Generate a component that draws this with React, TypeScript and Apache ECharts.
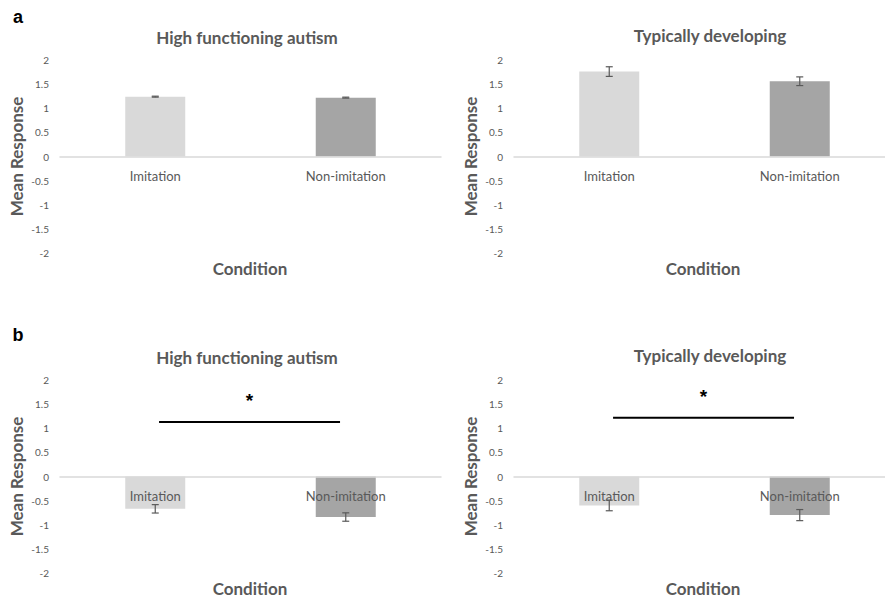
import React, { useEffect, useRef } from 'react';
import * as echarts from 'echarts';

// ---- data ----
const categories = ['Imitation', 'Non-imitation'];
const panelTitles = ['High functioning autism', 'Typically developing'];
const panelLetters = ['a', 'b'];
const xAxisTitle = 'Condition';
const yAxisTitle = 'Mean Response';
const yMin = -2;
const yMax = 2;
const yInterval = 0.5;

// panel a
const hfaA = [1.24, 1.22];
const hfaAErr = [0.01, 0.01];
const tdA = [1.76, 1.56];
const tdAErr = [0.1, 0.09];
// panel b
const hfaB = [-0.67, -0.84];
const hfaBErr = [0.087, 0.087];
const tdB = [-0.6, -0.8];
const tdBErr = [0.11, 0.115];
// significance bars in panel b (height of bar)
const sigHfaB = [1.13];
const sigTdB = [1.22];
const sigMark = '*';

const barColors = ['#d9d9d9', '#a5a5a5'];
const textGrey = '#595959';
const FONT = 'Lato, "Open Sans", sans-serif';

export default function App() {
  const ref = useRef<HTMLDivElement>(null);

  useEffect(() => {
    document.body.style.margin = '0';
    if (!ref.current) return;
    const chart = echarts.init(ref.current, undefined, { renderer: 'svg' });

    const gridH = 193;
    const grids = [
      { left: 60, top: 60, width: 381, height: gridH },
      { left: 514, top: 60, width: 381, height: gridH },
      { left: 60, top: 380, width: 381, height: gridH },
      { left: 514, top: 380, width: 381, height: gridH },
    ];

    const panels = [
      { values: hfaA, errs: hfaAErr, sig: null as number[] | null },
      { values: tdA, errs: tdAErr, sig: null as number[] | null },
      { values: hfaB, errs: hfaBErr, sig: sigHfaB },
      { values: tdB, errs: tdBErr, sig: sigTdB },
    ];

    // zero sits in the middle of the -2..2 range: move the category axis up to it
    const zeroOffset = -gridH * ((0 - yMin) / (yMax - yMin));

    const xAxes = panels.map((_, i) => ({
      type: 'category',
      gridIndex: i,
      data: categories,
      position: 'bottom',
      offset: zeroOffset,
      z: 5,
      axisLine: { onZero: false, lineStyle: { color: '#d9d9d9', width: 1.5 } },
      axisTick: { show: false },
      axisLabel: { color: textGrey, fontSize: 13, margin: 13, fontFamily: FONT },
    }));

    const yAxes = panels.map((_, i) => ({
      type: 'value',
      gridIndex: i,
      min: yMin,
      max: yMax,
      interval: yInterval,
      axisLine: { show: false },
      axisTick: { show: false },
      splitLine: { show: false },
      axisLabel: { color: textGrey, fontSize: 10, margin: 11, fontFamily: FONT },
      name: yAxisTitle,
      nameLocation: 'middle',
      nameGap: 35,
      nameTextStyle: { color: textGrey, fontSize: 17, fontWeight: 'bold', fontFamily: FONT },
    }));

    const series: any[] = [];
    panels.forEach((p, i) => {
      series.push({
        type: 'bar',
        xAxisIndex: i,
        yAxisIndex: i,
        barWidth: 60,
        z: 2,
        data: p.values.map((v, j) => ({ value: v, itemStyle: { color: barColors[j] } })),
      });
      series.push({
        type: 'custom',
        xAxisIndex: i,
        yAxisIndex: i,
        z: 6,
        data: p.values.map((v, j) => [j, v, p.errs[j]]),
        renderItem: (params: any, api: any) => {
          const c = api.value(0);
          const v = api.value(1);
          const e = api.value(2);
          const top = api.coord([c, v + e]);
          const bot = api.coord([c, v - e]);
          const hw = 3.5;
          const st = { stroke: '#595959', lineWidth: 1.2 };
          return {
            type: 'group',
            children: [
              { type: 'line', shape: { x1: top[0], y1: top[1], x2: bot[0], y2: bot[1] }, style: st },
              { type: 'line', shape: { x1: top[0] - hw, y1: top[1], x2: top[0] + hw, y2: top[1] }, style: st },
              { type: 'line', shape: { x1: bot[0] - hw, y1: bot[1], x2: bot[0] + hw, y2: bot[1] }, style: st },
            ],
          };
        },
      });
      if (p.sig) {
        series.push({
          type: 'custom',
          xAxisIndex: i,
          yAxisIndex: i,
          z: 7,
          data: p.sig.map((s) => [0, 1, s]),
          renderItem: (params: any, api: any) => {
            const y = api.value(2);
            const p0 = api.coord([api.value(0), y]);
            const p1 = api.coord([api.value(1), y]);
            const span = p1[0] - p0[0];
            const x1 = p0[0] + span * 0.02;
            const x2 = p0[0] + span * 0.97;
            return {
              type: 'group',
              children: [
                { type: 'line', shape: { x1, y1: p0[1], x2, y2: p0[1] }, style: { stroke: '#000', lineWidth: 2 } },
                {
                  type: 'text',
                  x: (x1 + x2) / 2,
                  y: p0[1] - 21,
                  style: {
                    text: sigMark,
                    fill: '#000',
                    font: 'bold 19px "Liberation Sans", Arial, sans-serif',
                    align: 'center',
                    verticalAlign: 'middle',
                  },
                },
              ],
            };
          },
        });
      }
    });

    const titlePos = [
      [247, 37], [710, 35], [247, 357], [710, 355],
    ];
    const condPos = [
      [250, 268], [703, 268], [250, 588], [703, 588],
    ];
    const letterPos = [[18, 17], [18, 335]];

    const graphic: any[] = [];
    titlePos.forEach((pos, i) => {
      graphic.push({
        type: 'text', x: pos[0], y: pos[1],
        style: { text: panelTitles[i % 2], fill: textGrey, font: `bold 17px ${FONT}`, align: 'center', verticalAlign: 'middle' },
      });
    });
    condPos.forEach((pos) => {
      graphic.push({
        type: 'text', x: pos[0], y: pos[1],
        style: { text: xAxisTitle, fill: textGrey, font: `bold 17px ${FONT}`, align: 'center', verticalAlign: 'middle' },
      });
    });
    letterPos.forEach((pos, i) => {
      graphic.push({
        type: 'text', x: pos[0], y: pos[1],
        style: { text: panelLetters[i], fill: '#000', font: 'bold 18px "Liberation Sans", Arial, sans-serif', align: 'center', verticalAlign: 'middle' },
      });
    });

    chart.setOption({
      animation: false,
      backgroundColor: '#fff',
      grid: grids,
      xAxis: xAxes,
      yAxis: yAxes,
      series,
      graphic,
    });

    return () => chart.dispose();
  }, []);

  // the right-hand panels run past the picture's right edge, as in the original
  return (
    <div style={{ width: 885, height: 599, overflow: 'hidden', position: 'relative' }}>
      <div ref={ref} style={{ width: 900, height: 599 }} />
    </div>
  );
}
